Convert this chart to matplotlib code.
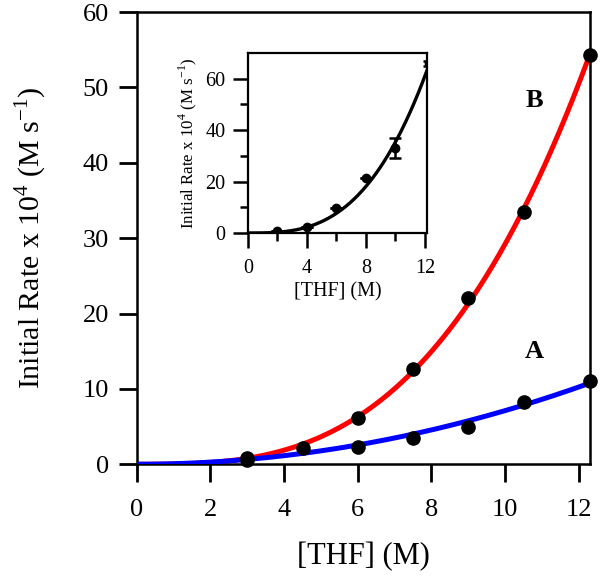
import numpy as np
import matplotlib
matplotlib.use("Agg")
import matplotlib.pyplot as plt

plt.rcParams["font.family"] = ["Liberation Serif", "DejaVu Serif"]
plt.rcParams["mathtext.fontset"] = "custom"
plt.rcParams["mathtext.rm"] = "Liberation Serif"

# main plot data
thf_a = [3.0, 6.0, 7.5, 9.0, 10.5, 12.3]
rate_a = [0.5, 2.3, 3.5, 5.0, 8.3, 11.1]
thf_b = [3.0, 4.5, 6.0, 7.5, 9.0, 10.5, 12.3]
rate_b = [0.8, 2.2, 6.1, 12.6, 22.0, 33.5, 54.3]

# inset data
thf_in = [2.0, 4.0, 6.0, 8.0, 10.0, 12.3]
rate_in = [0.8, 2.3, 9.7, 21.3, 33.0, 66.0]
err_in = [0, 0, 0, 0, 3.9, 1.0]

def power_fit(x, y, n):
    x = np.asarray(x)
    y = np.asarray(y)
    k = np.sum(y * x**n) / np.sum(x**(2 * n))
    return k

fig = plt.figure(figsize=(6.0, 5.76), dpi=100)
ax = fig.add_axes([0.228, 0.194, 0.755, 0.785])

xs = np.linspace(0, 12.3, 300)
ka = power_fit(thf_a, rate_a, 2)
kb = power_fit(thf_b, rate_b, 3)
ax.plot(xs, kb * xs**3, color="#ff0000", lw=3.6, zorder=2)
ax.plot(xs, ka * xs**2, color="#0000ff", lw=3.6, zorder=3)
ax.plot(thf_b, rate_b, "o", color="black", ms=9.5, zorder=4, clip_on=False)
ax.plot(thf_a, rate_a, "o", color="black", ms=9.5, zorder=4, clip_on=False)

ax.text(10.8, 14.9, "A", fontsize=19, fontweight="bold", ha="center", va="center")
ax.text(10.8, 48.3, "B", fontsize=19, fontweight="bold", ha="center", va="center")

ax.set_xlim(0, 12.3)
ax.set_ylim(0, 60)
ax.set_xticks(range(0, 13, 2))
ax.set_yticks(range(0, 61, 10))
ax.tick_params(direction="out", length=13, width=2, labelsize=19, pad=7)
ax.tick_params(axis="x", pad=12)
for s in ax.spines.values():
    s.set_linewidth(1.8)
ax.set_xlabel("[THF] (M)", fontsize=22, labelpad=15)
ax.set_ylabel(r"Initial Rate x 10$^{4}$ (M s$^{-1}$)", fontsize=21.5, labelpad=24)

# inset
axi = fig.add_axes([0.413, 0.5955, 0.299, 0.3125])
xi = np.linspace(0, 12.3, 300)
ki = power_fit(thf_in, rate_in, 3)
axi.plot(xi, ki * xi**3, color="black", lw=2.4, zorder=2)
axi.errorbar(thf_in, rate_in, yerr=err_in, fmt="o", color="black", ms=6,
             elinewidth=1.8, capsize=4, capthick=1.8, zorder=3)
axi.set_xlim(0, 12.15)
axi.set_ylim(0, 70)
axi.set_xticks([0, 4, 8, 12])
axi.set_xticks([2, 6, 10], minor=True)
axi.set_yticks([0, 20, 40, 60])
axi.set_yticks([10, 30, 50], minor=True)
axi.tick_params(which="major", direction="out", length=11, width=1.8, labelsize=14.5, pad=5)
axi.tick_params(axis="x", which="major", pad=8)
axi.tick_params(which="minor", direction="out", length=6, width=1.8)
for s in axi.spines.values():
    s.set_linewidth(1.6)
axi.set_xlabel("[THF] (M)", fontsize=14.5, labelpad=3)
axi.set_ylabel(r"Initial Rate x 10$^{4}$ (M s$^{-1}$)", fontsize=12.2, labelpad=5)

fig.savefig("out.png", dpi=100)
